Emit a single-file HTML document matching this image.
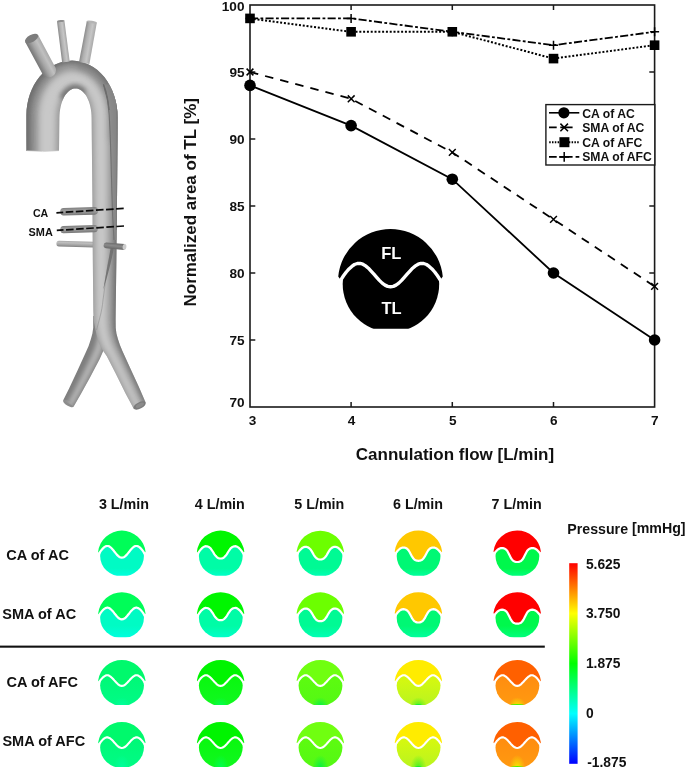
<!DOCTYPE html>
<html><head><meta charset="utf-8"><title>figure</title>
<style>
html,body{margin:0;padding:0;background:#fff;}
body{width:685px;height:768px;overflow:hidden;font-family:"Liberation Sans",sans-serif;}
svg{display:block;will-change:transform;}
text{font-family:"Liberation Sans",sans-serif;font-weight:bold;fill:#111;}
</style></head><body>
<svg width="685" height="768" viewBox="0 0 685 768">
<rect width="685" height="768" fill="#fff"/>
<defs>
<clipPath id="icc"><path d="M334.11,280.12 L340.7,280.1 343.5,275.8 346.3,272.0 349.0,268.9 351.8,266.4 354.5,264.5 357.3,263.5 360.1,263.4 362.8,264.2 365.6,265.9 368.4,268.2 371.1,271.1 373.9,274.2 376.7,277.4 379.4,280.4 382.2,283.1 385.0,285.1 387.7,286.4 390.5,286.8 393.3,286.4 396.0,285.1 398.8,283.1 401.6,280.4 404.3,277.4 407.1,274.2 409.9,271.1 412.6,268.2 415.4,265.9 418.2,264.2 420.9,263.4 423.7,263.5 426.5,264.5 429.2,266.4 432.0,268.9 434.7,272.0 437.5,275.8 440.3,280.1 L446.89,280.12 V328.66 H334.11Z"/></clipPath>
<linearGradient id="m00g" x1="0" y1="0" x2="0" y2="1"><stop offset="0.8" stop-color="#00fbc4"/><stop offset="1" stop-color="#00ffe0"/></linearGradient>
<clipPath id="m00c"><path d="M96.25,553.40 L99.2,553.4 100.5,551.4 101.8,549.7 103.0,548.3 104.3,547.2 105.5,546.4 106.8,546.0 108.0,546.0 109.3,546.4 110.5,547.3 111.8,548.5 113.1,549.9 114.3,551.5 115.6,553.1 116.8,554.6 118.1,555.9 119.3,556.9 120.6,557.5 121.8,557.7 123.1,557.5 124.4,556.9 125.6,555.9 126.9,554.6 128.1,553.1 129.4,551.5 130.6,549.9 131.9,548.5 133.2,547.3 134.4,546.4 135.7,546.0 136.9,546.0 138.2,546.4 139.4,547.2 140.7,548.3 141.9,549.7 143.2,551.4 144.4,553.4 L147.45,553.40 V575.65 H96.25Z"/></clipPath>
<linearGradient id="m01g" x1="0" y1="0" x2="0" y2="1"><stop offset="0.8" stop-color="#00fca6"/><stop offset="1" stop-color="#00ffcc"/></linearGradient>
<clipPath id="m01c"><path d="M195.00,553.30 L198.0,553.3 199.3,551.4 200.5,549.8 201.8,548.4 203.0,547.4 204.3,546.6 205.5,546.2 206.8,546.3 208.0,546.6 209.3,547.3 210.6,548.4 211.8,550.1 213.1,552.0 214.3,554.1 215.6,555.8 216.8,557.1 218.1,558.0 219.3,558.4 220.6,558.5 221.9,558.4 223.1,558.0 224.4,557.1 225.6,555.8 226.9,554.1 228.1,552.0 229.4,550.1 230.6,548.4 231.9,547.3 233.2,546.6 234.4,546.3 235.7,546.2 236.9,546.6 238.2,547.4 239.4,548.4 240.7,549.8 241.9,551.4 243.2,553.3 L246.20,553.30 V575.65 H195.00Z"/></clipPath>
<linearGradient id="m02g" x1="0" y1="0" x2="0" y2="1"><stop offset="0.8" stop-color="#00fa94"/><stop offset="1" stop-color="#00ffb8"/></linearGradient>
<clipPath id="m02c"><path d="M294.70,553.20 L297.7,553.2 299.0,551.4 300.2,549.9 301.5,548.7 302.7,547.7 304.0,547.1 305.2,546.8 306.5,546.9 307.7,547.2 309.0,548.0 310.3,549.2 311.5,550.9 312.8,553.1 314.0,555.3 315.3,557.0 316.5,558.3 317.8,559.0 319.0,559.4 320.3,559.5 321.6,559.4 322.8,559.0 324.1,558.3 325.3,557.0 326.6,555.3 327.8,553.1 329.1,550.9 330.3,549.2 331.6,548.0 332.9,547.2 334.1,546.9 335.4,546.8 336.6,547.1 337.9,547.7 339.1,548.7 340.4,549.9 341.6,551.4 342.9,553.2 L345.90,553.20 V575.65 H294.70Z"/></clipPath>
<linearGradient id="m03g" x1="0" y1="0" x2="0" y2="1"><stop offset="0.8" stop-color="#00f874"/><stop offset="1" stop-color="#00ffa0"/></linearGradient>
<clipPath id="m03c"><path d="M392.80,553.10 L395.8,553.1 397.1,551.5 398.3,550.1 399.6,549.0 400.8,548.2 402.1,547.7 403.3,547.5 404.6,547.6 405.8,548.0 407.1,548.8 408.4,550.1 409.6,552.0 410.9,554.4 412.1,556.7 413.4,558.5 414.6,559.7 415.9,560.4 417.1,560.7 418.4,560.8 419.7,560.7 420.9,560.4 422.2,559.7 423.4,558.5 424.7,556.7 425.9,554.4 427.2,552.0 428.4,550.1 429.7,548.8 431.0,548.0 432.2,547.6 433.5,547.5 434.7,547.7 436.0,548.2 437.2,549.0 438.5,550.1 439.7,551.5 441.0,553.1 L444.00,553.10 V575.65 H392.80Z"/></clipPath>
<linearGradient id="m04g" x1="0" y1="0" x2="0" y2="1"><stop offset="0.8" stop-color="#00f84c"/><stop offset="1" stop-color="#00ff80"/></linearGradient>
<clipPath id="m04c"><path d="M491.60,553.00 L494.6,553.0 495.9,551.5 497.1,550.2 498.4,549.2 499.6,548.5 500.9,548.1 502.1,548.0 503.4,548.2 504.6,548.6 505.9,549.4 507.2,550.8 508.4,553.0 509.7,555.6 510.9,558.0 512.2,559.8 513.4,561.0 514.7,561.6 515.9,561.9 517.2,562.0 518.5,561.9 519.7,561.6 521.0,561.0 522.2,559.8 523.5,558.0 524.7,555.6 526.0,553.0 527.2,550.8 528.5,549.4 529.8,548.6 531.0,548.2 532.3,548.0 533.5,548.1 534.8,548.5 536.0,549.2 537.3,550.2 538.5,551.5 539.8,553.0 L542.80,553.00 V575.65 H491.60Z"/></clipPath>
<linearGradient id="m10g" x1="0" y1="0" x2="0" y2="1"><stop offset="0.7" stop-color="#00fbc4"/><stop offset="1" stop-color="#00ffe0"/></linearGradient>
<clipPath id="m10c"><path d="M96.25,615.10 L99.2,615.1 100.5,613.1 101.8,611.4 103.0,610.0 104.3,608.9 105.5,608.1 106.8,607.7 108.0,607.7 109.3,608.1 110.5,609.0 111.8,610.2 113.1,611.6 114.3,613.2 115.6,614.8 116.8,616.3 118.1,617.6 119.3,618.6 120.6,619.2 121.8,619.4 123.1,619.2 124.4,618.6 125.6,617.6 126.9,616.3 128.1,614.8 129.4,613.2 130.6,611.6 131.9,610.2 133.2,609.0 134.4,608.1 135.7,607.7 136.9,607.7 138.2,608.1 139.4,608.9 140.7,610.0 141.9,611.4 143.2,613.1 144.4,615.1 L147.45,615.10 V637.35 H96.25Z"/></clipPath>
<linearGradient id="m11g" x1="0" y1="0" x2="0" y2="1"><stop offset="0.7" stop-color="#00fca6"/><stop offset="1" stop-color="#00ffcc"/></linearGradient>
<clipPath id="m11c"><path d="M195.00,615.00 L198.0,615.0 199.3,613.1 200.5,611.5 201.8,610.1 203.0,609.1 204.3,608.3 205.5,607.9 206.8,608.0 208.0,608.3 209.3,609.0 210.6,610.1 211.8,611.8 213.1,613.7 214.3,615.8 215.6,617.5 216.8,618.8 218.1,619.7 219.3,620.1 220.6,620.2 221.9,620.1 223.1,619.7 224.4,618.8 225.6,617.5 226.9,615.8 228.1,613.7 229.4,611.8 230.6,610.1 231.9,609.0 233.2,608.3 234.4,608.0 235.7,607.9 236.9,608.3 238.2,609.1 239.4,610.1 240.7,611.5 241.9,613.1 243.2,615.0 L246.20,615.00 V637.35 H195.00Z"/></clipPath>
<linearGradient id="m12g" x1="0" y1="0" x2="0" y2="1"><stop offset="0.7" stop-color="#00fa94"/><stop offset="1" stop-color="#00ffb8"/></linearGradient>
<clipPath id="m12c"><path d="M294.70,614.90 L297.7,614.9 299.0,613.1 300.2,611.6 301.5,610.4 302.7,609.4 304.0,608.8 305.2,608.5 306.5,608.6 307.7,608.9 309.0,609.7 310.3,610.9 311.5,612.6 312.8,614.8 314.0,617.0 315.3,618.7 316.5,620.0 317.8,620.7 319.0,621.1 320.3,621.2 321.6,621.1 322.8,620.7 324.1,620.0 325.3,618.7 326.6,617.0 327.8,614.8 329.1,612.6 330.3,610.9 331.6,609.7 332.9,608.9 334.1,608.6 335.4,608.5 336.6,608.8 337.9,609.4 339.1,610.4 340.4,611.6 341.6,613.1 342.9,614.9 L345.90,614.90 V637.35 H294.70Z"/></clipPath>
<linearGradient id="m13g" x1="0" y1="0" x2="0" y2="1"><stop offset="0.7" stop-color="#00f874"/><stop offset="1" stop-color="#00ffa0"/></linearGradient>
<clipPath id="m13c"><path d="M392.80,614.80 L395.8,614.8 397.1,613.2 398.3,611.8 399.6,610.7 400.8,609.9 402.1,609.4 403.3,609.2 404.6,609.3 405.8,609.7 407.1,610.5 408.4,611.8 409.6,613.7 410.9,616.1 412.1,618.4 413.4,620.2 414.6,621.4 415.9,622.1 417.1,622.4 418.4,622.5 419.7,622.4 420.9,622.1 422.2,621.4 423.4,620.2 424.7,618.4 425.9,616.1 427.2,613.7 428.4,611.8 429.7,610.5 431.0,609.7 432.2,609.3 433.5,609.2 434.7,609.4 436.0,609.9 437.2,610.7 438.5,611.8 439.7,613.2 441.0,614.8 L444.00,614.80 V637.35 H392.80Z"/></clipPath>
<linearGradient id="m14g" x1="0" y1="0" x2="0" y2="1"><stop offset="0.7" stop-color="#00f84c"/><stop offset="1" stop-color="#00ff80"/></linearGradient>
<clipPath id="m14c"><path d="M491.60,614.70 L494.6,614.7 495.9,613.2 497.1,611.9 498.4,610.9 499.6,610.2 500.9,609.8 502.1,609.7 503.4,609.9 504.6,610.3 505.9,611.1 507.2,612.5 508.4,614.7 509.7,617.3 510.9,619.7 512.2,621.5 513.4,622.7 514.7,623.3 515.9,623.6 517.2,623.7 518.5,623.6 519.7,623.3 521.0,622.7 522.2,621.5 523.5,619.7 524.7,617.3 526.0,614.7 527.2,612.5 528.5,611.1 529.8,610.3 531.0,609.9 532.3,609.7 533.5,609.8 534.8,610.2 536.0,610.9 537.3,611.9 538.5,613.2 539.8,614.7 L542.80,614.70 V637.35 H491.60Z"/></clipPath>
<linearGradient id="m20l" x1="0" y1="0" x2="0" y2="1"><stop offset="0.35" stop-color="#00f978"/><stop offset="1" stop-color="#00fb86"/></linearGradient>
<radialGradient id="m20g" cx="0" cy="0" r="8.5" gradientUnits="userSpaceOnUse" gradientTransform="translate(121.85 705.9) scale(1.0 1)"><stop offset="0" stop-color="#00ffa0" stop-opacity="0.95"/><stop offset="0.45" stop-color="#00ffa0" stop-opacity="0.5"/><stop offset="1" stop-color="#00ffa0" stop-opacity="0"/></radialGradient>
<clipPath id="m20c"><path d="M96.25,682.10 L99.2,682.1 100.5,680.2 101.8,678.6 103.0,677.3 104.3,676.3 105.5,675.6 106.8,675.2 108.0,675.3 109.3,675.8 110.5,676.6 111.8,677.7 113.1,679.0 114.3,680.4 115.6,681.8 116.8,683.1 118.1,684.3 119.3,685.2 120.6,685.7 121.8,685.9 123.1,685.7 124.4,685.2 125.6,684.3 126.9,683.1 128.1,681.8 129.4,680.4 130.6,679.0 131.9,677.7 133.2,676.6 134.4,675.8 135.7,675.3 136.9,675.2 138.2,675.6 139.4,676.3 140.7,677.3 141.9,678.6 143.2,680.2 144.4,682.1 L147.45,682.10 V704.95 H96.25Z"/></clipPath>
<linearGradient id="m21l" x1="0" y1="0" x2="0" y2="1"><stop offset="0.35" stop-color="#0af810"/><stop offset="1" stop-color="#10f820"/></linearGradient>
<radialGradient id="m21g" cx="0" cy="0" r="8.5" gradientUnits="userSpaceOnUse" gradientTransform="translate(220.6 705.9) scale(1.0 1)"><stop offset="0" stop-color="#00ff58" stop-opacity="0.95"/><stop offset="0.45" stop-color="#00ff58" stop-opacity="0.5"/><stop offset="1" stop-color="#00ff58" stop-opacity="0"/></radialGradient>
<clipPath id="m21c"><path d="M195.00,682.10 L198.0,682.1 199.3,680.2 200.5,678.6 201.8,677.3 203.0,676.3 204.3,675.6 205.5,675.2 206.8,675.3 208.0,675.8 209.3,676.6 210.6,677.7 211.8,679.0 213.1,680.4 214.3,681.8 215.6,683.1 216.8,684.3 218.1,685.2 219.3,685.7 220.6,685.9 221.9,685.7 223.1,685.2 224.4,684.3 225.6,683.1 226.9,681.8 228.1,680.4 229.4,679.0 230.6,677.7 231.9,676.6 233.2,675.8 234.4,675.3 235.7,675.2 236.9,675.6 238.2,676.3 239.4,677.3 240.7,678.6 241.9,680.2 243.2,682.1 L246.20,682.10 V704.95 H195.00Z"/></clipPath>
<linearGradient id="m22l" x1="0" y1="0" x2="0" y2="1"><stop offset="0.35" stop-color="#5cfb10"/><stop offset="1" stop-color="#54f814"/></linearGradient>
<radialGradient id="m22g" cx="0" cy="0" r="8.5" gradientUnits="userSpaceOnUse" gradientTransform="translate(320.3 705.9) scale(1.0 1)"><stop offset="0" stop-color="#00f048" stop-opacity="0.95"/><stop offset="0.45" stop-color="#00f048" stop-opacity="0.5"/><stop offset="1" stop-color="#00f048" stop-opacity="0"/></radialGradient>
<clipPath id="m22c"><path d="M294.70,682.10 L297.7,682.1 299.0,680.2 300.2,678.6 301.5,677.3 302.7,676.3 304.0,675.6 305.2,675.2 306.5,675.3 307.7,675.8 309.0,676.6 310.3,677.7 311.5,679.0 312.8,680.4 314.0,681.8 315.3,683.1 316.5,684.3 317.8,685.2 319.0,685.7 320.3,685.9 321.6,685.7 322.8,685.2 324.1,684.3 325.3,683.1 326.6,681.8 327.8,680.4 329.1,679.0 330.3,677.7 331.6,676.6 332.9,675.8 334.1,675.3 335.4,675.2 336.6,675.6 337.9,676.3 339.1,677.3 340.4,678.6 341.6,680.2 342.9,682.1 L345.90,682.10 V704.95 H294.70Z"/></clipPath>
<linearGradient id="m23l" x1="0" y1="0" x2="0" y2="1"><stop offset="0.35" stop-color="#d4f810"/><stop offset="1" stop-color="#b8f420"/></linearGradient>
<radialGradient id="m23g" cx="0" cy="0" r="8.5" gradientUnits="userSpaceOnUse" gradientTransform="translate(418.4 705.9) scale(1.0 1)"><stop offset="0" stop-color="#40f020" stop-opacity="0.95"/><stop offset="0.45" stop-color="#40f020" stop-opacity="0.5"/><stop offset="1" stop-color="#40f020" stop-opacity="0"/></radialGradient>
<clipPath id="m23c"><path d="M392.80,682.10 L395.8,682.1 397.1,680.2 398.3,678.6 399.6,677.3 400.8,676.3 402.1,675.6 403.3,675.2 404.6,675.3 405.8,675.8 407.1,676.6 408.4,677.7 409.6,679.0 410.9,680.4 412.1,681.8 413.4,683.1 414.6,684.3 415.9,685.2 417.1,685.7 418.4,685.9 419.7,685.7 420.9,685.2 422.2,684.3 423.4,683.1 424.7,681.8 425.9,680.4 427.2,679.0 428.4,677.7 429.7,676.6 431.0,675.8 432.2,675.3 433.5,675.2 434.7,675.6 436.0,676.3 437.2,677.3 438.5,678.6 439.7,680.2 441.0,682.1 L444.00,682.10 V704.95 H392.80Z"/></clipPath>
<linearGradient id="m24l" x1="0" y1="0" x2="0" y2="1"><stop offset="0.35" stop-color="#ff8e10"/><stop offset="1" stop-color="#ff9a10"/></linearGradient>
<radialGradient id="m24g" cx="0" cy="0" r="8.5" gradientUnits="userSpaceOnUse" gradientTransform="translate(517.2 705.9) scale(1.0 1)"><stop offset="0" stop-color="#f4f000" stop-opacity="0.95"/><stop offset="0.45" stop-color="#f4f000" stop-opacity="0.5"/><stop offset="1" stop-color="#f4f000" stop-opacity="0"/></radialGradient>
<clipPath id="m24c"><path d="M491.60,682.10 L494.6,682.1 495.9,680.2 497.1,678.6 498.4,677.3 499.6,676.3 500.9,675.6 502.1,675.2 503.4,675.3 504.6,675.8 505.9,676.6 507.2,677.7 508.4,679.0 509.7,680.4 510.9,681.8 512.2,683.1 513.4,684.3 514.7,685.2 515.9,685.7 517.2,685.9 518.5,685.7 519.7,685.2 521.0,684.3 522.2,683.1 523.5,681.8 524.7,680.4 526.0,679.0 527.2,677.7 528.5,676.6 529.8,675.8 531.0,675.3 532.3,675.2 533.5,675.6 534.8,676.3 536.0,677.3 537.3,678.6 538.5,680.2 539.8,682.1 L542.80,682.10 V704.95 H491.60Z"/></clipPath>
<linearGradient id="m30l" x1="0" y1="0" x2="0" y2="1"><stop offset="0.35" stop-color="#00f978"/><stop offset="1" stop-color="#00fb86"/></linearGradient>
<radialGradient id="m30g" cx="0" cy="0" r="13" gradientUnits="userSpaceOnUse" gradientTransform="translate(121.85 768.0) scale(0.62 1)"><stop offset="0" stop-color="#00ffa0" stop-opacity="0.95"/><stop offset="0.45" stop-color="#00ffa0" stop-opacity="0.5"/><stop offset="1" stop-color="#00ffa0" stop-opacity="0"/></radialGradient>
<clipPath id="m30c"><path d="M96.25,744.20 L99.2,744.2 100.5,742.3 101.8,740.7 103.0,739.4 104.3,738.4 105.5,737.7 106.8,737.3 108.0,737.4 109.3,737.9 110.5,738.7 111.8,739.8 113.1,741.1 114.3,742.5 115.6,743.9 116.8,745.2 118.1,746.4 119.3,747.3 120.6,747.8 121.8,748.0 123.1,747.8 124.4,747.3 125.6,746.4 126.9,745.2 128.1,743.9 129.4,742.5 130.6,741.1 131.9,739.8 133.2,738.7 134.4,737.9 135.7,737.4 136.9,737.3 138.2,737.7 139.4,738.4 140.7,739.4 141.9,740.7 143.2,742.3 144.4,744.2 L147.45,744.20 V767.05 H96.25Z"/></clipPath>
<linearGradient id="m31l" x1="0" y1="0" x2="0" y2="1"><stop offset="0.35" stop-color="#0af810"/><stop offset="1" stop-color="#10f820"/></linearGradient>
<radialGradient id="m31g" cx="0" cy="0" r="13" gradientUnits="userSpaceOnUse" gradientTransform="translate(220.6 768.0) scale(0.62 1)"><stop offset="0" stop-color="#00ff58" stop-opacity="0.95"/><stop offset="0.45" stop-color="#00ff58" stop-opacity="0.5"/><stop offset="1" stop-color="#00ff58" stop-opacity="0"/></radialGradient>
<clipPath id="m31c"><path d="M195.00,744.20 L198.0,744.2 199.3,742.3 200.5,740.7 201.8,739.4 203.0,738.4 204.3,737.7 205.5,737.3 206.8,737.4 208.0,737.9 209.3,738.7 210.6,739.8 211.8,741.1 213.1,742.5 214.3,743.9 215.6,745.2 216.8,746.4 218.1,747.3 219.3,747.8 220.6,748.0 221.9,747.8 223.1,747.3 224.4,746.4 225.6,745.2 226.9,743.9 228.1,742.5 229.4,741.1 230.6,739.8 231.9,738.7 233.2,737.9 234.4,737.4 235.7,737.3 236.9,737.7 238.2,738.4 239.4,739.4 240.7,740.7 241.9,742.3 243.2,744.2 L246.20,744.20 V767.05 H195.00Z"/></clipPath>
<linearGradient id="m32l" x1="0" y1="0" x2="0" y2="1"><stop offset="0.35" stop-color="#5cfb10"/><stop offset="1" stop-color="#54f814"/></linearGradient>
<radialGradient id="m32g" cx="0" cy="0" r="13" gradientUnits="userSpaceOnUse" gradientTransform="translate(320.3 768.0) scale(0.62 1)"><stop offset="0" stop-color="#00f048" stop-opacity="0.95"/><stop offset="0.45" stop-color="#00f048" stop-opacity="0.5"/><stop offset="1" stop-color="#00f048" stop-opacity="0"/></radialGradient>
<clipPath id="m32c"><path d="M294.70,744.20 L297.7,744.2 299.0,742.3 300.2,740.7 301.5,739.4 302.7,738.4 304.0,737.7 305.2,737.3 306.5,737.4 307.7,737.9 309.0,738.7 310.3,739.8 311.5,741.1 312.8,742.5 314.0,743.9 315.3,745.2 316.5,746.4 317.8,747.3 319.0,747.8 320.3,748.0 321.6,747.8 322.8,747.3 324.1,746.4 325.3,745.2 326.6,743.9 327.8,742.5 329.1,741.1 330.3,739.8 331.6,738.7 332.9,737.9 334.1,737.4 335.4,737.3 336.6,737.7 337.9,738.4 339.1,739.4 340.4,740.7 341.6,742.3 342.9,744.2 L345.90,744.20 V767.05 H294.70Z"/></clipPath>
<linearGradient id="m33l" x1="0" y1="0" x2="0" y2="1"><stop offset="0.35" stop-color="#d4f810"/><stop offset="1" stop-color="#b8f420"/></linearGradient>
<radialGradient id="m33g" cx="0" cy="0" r="13" gradientUnits="userSpaceOnUse" gradientTransform="translate(418.4 768.0) scale(0.62 1)"><stop offset="0" stop-color="#40f020" stop-opacity="0.95"/><stop offset="0.45" stop-color="#40f020" stop-opacity="0.5"/><stop offset="1" stop-color="#40f020" stop-opacity="0"/></radialGradient>
<clipPath id="m33c"><path d="M392.80,744.20 L395.8,744.2 397.1,742.3 398.3,740.7 399.6,739.4 400.8,738.4 402.1,737.7 403.3,737.3 404.6,737.4 405.8,737.9 407.1,738.7 408.4,739.8 409.6,741.1 410.9,742.5 412.1,743.9 413.4,745.2 414.6,746.4 415.9,747.3 417.1,747.8 418.4,748.0 419.7,747.8 420.9,747.3 422.2,746.4 423.4,745.2 424.7,743.9 425.9,742.5 427.2,741.1 428.4,739.8 429.7,738.7 431.0,737.9 432.2,737.4 433.5,737.3 434.7,737.7 436.0,738.4 437.2,739.4 438.5,740.7 439.7,742.3 441.0,744.2 L444.00,744.20 V767.05 H392.80Z"/></clipPath>
<linearGradient id="m34l" x1="0" y1="0" x2="0" y2="1"><stop offset="0.35" stop-color="#ff8e10"/><stop offset="1" stop-color="#ff9a10"/></linearGradient>
<radialGradient id="m34g" cx="0" cy="0" r="13" gradientUnits="userSpaceOnUse" gradientTransform="translate(517.2 768.0) scale(0.62 1)"><stop offset="0" stop-color="#f4f000" stop-opacity="0.95"/><stop offset="0.45" stop-color="#f4f000" stop-opacity="0.5"/><stop offset="1" stop-color="#f4f000" stop-opacity="0"/></radialGradient>
<clipPath id="m34c"><path d="M491.60,744.20 L494.6,744.2 495.9,742.3 497.1,740.7 498.4,739.4 499.6,738.4 500.9,737.7 502.1,737.3 503.4,737.4 504.6,737.9 505.9,738.7 507.2,739.8 508.4,741.1 509.7,742.5 510.9,743.9 512.2,745.2 513.4,746.4 514.7,747.3 515.9,747.8 517.2,748.0 518.5,747.8 519.7,747.3 521.0,746.4 522.2,745.2 523.5,743.9 524.7,742.5 526.0,741.1 527.2,739.8 528.5,738.7 529.8,737.9 531.0,737.4 532.3,737.3 533.5,737.7 534.8,738.4 536.0,739.4 537.3,740.7 538.5,742.3 539.8,744.2 L542.80,744.20 V767.05 H491.60Z"/></clipPath>
<linearGradient id="jet" x1="0" y1="0" x2="0" y2="1"><stop offset="0" stop-color="#ff0000"/><stop offset="0.25" stop-color="#ffff00"/><stop offset="0.5" stop-color="#00ff00"/><stop offset="0.75" stop-color="#00ffff"/><stop offset="1" stop-color="#0000ff"/></linearGradient>
<filter id="bl3" x="-20%" y="-20%" width="140%" height="140%"><feGaussianBlur stdDeviation="3.2"/></filter>
<filter id="bl2" x="-20%" y="-20%" width="140%" height="140%"><feGaussianBlur stdDeviation="2"/></filter>
<filter id="bl1" x="-20%" y="-20%" width="140%" height="140%"><feGaussianBlur stdDeviation="1"/></filter>
<filter id="bl05" x="-20%" y="-20%" width="140%" height="140%"><feGaussianBlur stdDeviation="0.5"/></filter>
<clipPath id="aoc"><path d="M26.5,151.0 L26.4,135.0 L26.4,115.0 L26.6,109.7 L27.3,104.4 L28.4,99.2 L29.9,94.2 L31.8,89.4 L34.1,84.8 L36.8,80.5 L39.8,76.5 L43.1,72.9 L46.7,69.8 L50.6,67.0 L54.6,64.7 L58.8,62.9 L63.2,61.6 L67.6,60.9 L72.1,60.6 L76.6,60.9 L81.0,61.7 L85.3,63.0 L89.5,64.9 L93.5,67.3 L97.4,70.1 L101.0,73.4 L104.3,77.1 L107.3,81.2 L109.9,85.7 L112.2,90.4 L114.1,95.4 L115.6,100.6 L116.7,106.0 L117.4,111.5 L117.6,117.0 L117.5,140.0 L117.0,200.0 L116.4,260.0 L115.7,310.0 L115.6,320.0 L115.7,327.7 L116.4,333.5 L117.9,338.9 L119.9,345.0 L122.4,350.9 L129.9,367.4 L138.8,386.8 L145.6,402.5 L133.6,408.5 L125.3,392.9 L115.8,373.7 L106.7,356.0 L102.0,349.3 L98.6,342.0 L96.6,335.0 L95.2,328.4 L93.6,320.0 L93.3,310.0 L92.8,260.0 L92.4,200.0 L91.8,140.0 L91.6,118.0 L91.5,115.1 L91.3,112.2 L90.9,109.4 L90.4,106.7 L89.7,104.0 L88.9,101.6 L87.9,99.2 L86.9,97.1 L85.7,95.1 L84.4,93.4 L83.1,91.9 L81.7,90.7 L80.2,89.7 L78.6,89.0 L77.1,88.5 L75.5,88.4 L73.9,88.5 L72.4,89.0 L70.8,89.7 L69.3,90.7 L67.9,91.9 L66.6,93.4 L65.3,95.1 L64.1,97.1 L63.1,99.2 L62.1,101.6 L61.3,104.0 L60.6,106.7 L60.1,109.4 L59.7,112.2 L59.5,115.1 L59.4,118.0 L59.2,135.0 L59.0,151.0Z"/></clipPath>
<linearGradient id="g_lr" gradientUnits="userSpaceOnUse" x1="76.6" y1="241.2" x2="76.4" y2="247.0"><stop offset="0" stop-color="#a8a8a8"/><stop offset="0.3" stop-color="#bebebe"/><stop offset="0.7" stop-color="#a2a2a2"/><stop offset="1" stop-color="#808080"/></linearGradient>
<clipPath id="lic"><path d="M93.2,316.0 L93.2,327.7 L92.4,333.5 L90.9,338.9 L88.6,346.0 L85.7,352.4 L77.5,370.4 L69.2,388.3 L63.2,400.3 L73.7,406.6 L81.0,393.8 L90.5,376.5 L99.7,359.0 L103.0,351.5 L105.0,343.5 L105.2,337.0 L105.0,330.0 L104.0,316.0Z"/></clipPath>
<linearGradient id="g_b1" gradientUnits="userSpaceOnUse" x1="46.9" y1="51.5" x2="34.0" y2="58.4"><stop offset="0" stop-color="#a9a9a9"/><stop offset="0.28" stop-color="#c0c0c0"/><stop offset="0.6" stop-color="#a6a6a6"/><stop offset="0.88" stop-color="#828282"/><stop offset="1" stop-color="#787878"/></linearGradient>
<linearGradient id="g_b2" gradientUnits="userSpaceOnUse" x1="67.1" y1="41.0" x2="59.5" y2="42.0"><stop offset="0" stop-color="#a4a4a4"/><stop offset="0.35" stop-color="#c6c6c6"/><stop offset="0.7" stop-color="#b0b0b0"/><stop offset="1" stop-color="#888888"/></linearGradient>
<linearGradient id="g_b3" gradientUnits="userSpaceOnUse" x1="93.2" y1="43.4" x2="82.8" y2="41.5"><stop offset="0" stop-color="#a8a8a8"/><stop offset="0.35" stop-color="#c6c6c6"/><stop offset="0.7" stop-color="#b0b0b0"/><stop offset="1" stop-color="#8a8a8a"/></linearGradient>
<linearGradient id="g_ca" gradientUnits="userSpaceOnUse" x1="79.0" y1="207.5" x2="79.2" y2="215.1"><stop offset="0" stop-color="#7e7e7e"/><stop offset="0.4" stop-color="#a0a0a0"/><stop offset="0.7" stop-color="#929292"/><stop offset="1" stop-color="#767676"/></linearGradient>
<linearGradient id="g_sma" gradientUnits="userSpaceOnUse" x1="78.9" y1="225.5" x2="79.2" y2="232.7"><stop offset="0" stop-color="#7e7e7e"/><stop offset="0.4" stop-color="#a0a0a0"/><stop offset="0.7" stop-color="#929292"/><stop offset="1" stop-color="#767676"/></linearGradient>
<linearGradient id="g_rr" gradientUnits="userSpaceOnUse" x1="115.6" y1="243.3" x2="115.0" y2="249.0"><stop offset="0" stop-color="#6e6e6e"/><stop offset="0.45" stop-color="#8a8a8a"/><stop offset="1" stop-color="#6a6a6a"/></linearGradient>
</defs>


<g id="aorta"><path d="M59.1,240.7 L94.1,241.7 L93.9,247.5 L58.9,246.5 A2.9,2.6 92 0 1 59.1,240.7Z" fill="url(#g_lr)"/>
<path d="M93.2,316.0 L93.2,327.7 L92.4,333.5 L90.9,338.9 L88.6,346.0 L85.7,352.4 L77.5,370.4 L69.2,388.3 L63.2,400.3 L73.7,406.6 L81.0,393.8 L90.5,376.5 L99.7,359.0 L103.0,351.5 L105.0,343.5 L105.2,337.0 L105.0,330.0 L104.0,316.0Z" fill="#7e7e7e"/><ellipse cx="68.45" cy="403.45" rx="6.1" ry="2.5" transform="rotate(31 68.45 403.45)" fill="#8c8c8c"/>
<g clip-path="url(#lic)"><path d="M97.7,316.0 L98.2,328.7 L97.8,335.0 L96.8,340.8 L94.6,348.3 L91.6,355.2 L83.0,373.0 L74.2,390.6 L67.6,402.9 L72.7,406.0 L79.8,393.2 L89.2,375.9 L98.3,358.3 L101.6,350.9 L103.6,343.0 L103.9,336.6 L103.8,329.8 L102.9,316.0Z" fill="#b2b2b2" filter="url(#bl2)"/></g>
<path d="M26.5,151.0 L26.4,135.0 L26.4,115.0 L26.6,109.7 L27.3,104.4 L28.4,99.2 L29.9,94.2 L31.8,89.4 L34.1,84.8 L36.8,80.5 L39.8,76.5 L43.1,72.9 L46.7,69.8 L50.6,67.0 L54.6,64.7 L58.8,62.9 L63.2,61.6 L67.6,60.9 L72.1,60.6 L76.6,60.9 L81.0,61.7 L85.3,63.0 L89.5,64.9 L93.5,67.3 L97.4,70.1 L101.0,73.4 L104.3,77.1 L107.3,81.2 L109.9,85.7 L112.2,90.4 L114.1,95.4 L115.6,100.6 L116.7,106.0 L117.4,111.5 L117.6,117.0 L117.5,140.0 L117.0,200.0 L116.4,260.0 L115.7,310.0 L115.6,320.0 L115.7,327.7 L116.4,333.5 L117.9,338.9 L119.9,345.0 L122.4,350.9 L129.9,367.4 L138.8,386.8 L145.6,402.5 L133.6,408.5 L125.3,392.9 L115.8,373.7 L106.7,356.0 L102.0,349.3 L98.6,342.0 L96.6,335.0 L95.2,328.4 L93.6,320.0 L93.3,310.0 L92.8,260.0 L92.4,200.0 L91.8,140.0 L91.6,118.0 L91.5,115.1 L91.3,112.2 L90.9,109.4 L90.4,106.7 L89.7,104.0 L88.9,101.6 L87.9,99.2 L86.9,97.1 L85.7,95.1 L84.4,93.4 L83.1,91.9 L81.7,90.7 L80.2,89.7 L78.6,89.0 L77.1,88.5 L75.5,88.4 L73.9,88.5 L72.4,89.0 L70.8,89.7 L69.3,90.7 L67.9,91.9 L66.6,93.4 L65.3,95.1 L64.1,97.1 L63.1,99.2 L62.1,101.6 L61.3,104.0 L60.6,106.7 L60.1,109.4 L59.7,112.2 L59.5,115.1 L59.4,118.0 L59.2,135.0 L59.0,151.0Z" fill="#949494"/>
<g clip-path="url(#aoc)">
<path d="M38.2,163.0 L38.2,151.0 L38.2,135.0 L38.3,116.1 L38.4,111.6 L39.0,107.2 L39.8,102.9 L40.9,98.7 L42.4,94.6 L44.2,90.8 L46.2,87.2 L48.5,83.9 L51.1,80.9 L53.9,78.3 L56.8,76.0 L59.9,74.1 L63.2,72.6 L66.5,71.5 L69.9,70.8 L73.3,70.6 L76.7,70.8 L80.1,71.5 L83.5,72.6 L86.7,74.2 L89.8,76.1 L92.7,78.5 L95.5,81.2 L98.0,84.3 L100.3,87.7 L102.4,91.4 L104.1,95.3 L105.6,99.5 L106.7,103.8 L107.6,108.2 L108.1,112.8 L108.2,117.4 L108.2,140.0 L108.1,200.0 L107.9,260.0 L107.6,310.0 L107.7,320.0 L108.3,328.0 L109.3,334.0 L111.0,340.0 L113.5,346.5 L116.7,352.7 L124.8,369.7 L133.9,389.0 L141.3,404.7 L146.3,415.7 L139.6,419.0 L134.6,408.0 L126.4,392.4 L116.9,373.2 L108.0,355.6 L103.4,349.0 L100.1,341.8 L98.2,334.9 L96.8,328.3 L95.4,320.0 L95.1,310.0 L94.7,260.0 L94.4,200.0 L93.9,140.0 L93.7,117.9 L93.6,114.8 L93.3,111.7 L92.9,108.7 L92.3,105.8 L91.5,103.0 L90.6,100.3 L89.5,97.8 L88.3,95.5 L86.9,93.4 L85.5,91.5 L83.9,89.9 L82.3,88.6 L80.6,87.5 L78.8,86.8 L77.0,86.3 L75.2,86.2 L73.4,86.3 L71.6,86.8 L69.9,87.5 L68.2,88.6 L66.5,89.9 L65.0,91.5 L63.5,93.3 L62.2,95.4 L61.0,97.7 L59.9,100.2 L58.9,102.9 L58.2,105.7 L57.6,108.6 L57.1,111.6 L56.8,114.7 L56.8,117.8 L56.6,135.0 L56.4,151.0 L56.4,163.0Z" fill="#c8c8c8" filter="url(#bl3)"/>
<path d="M22.6,163.0 L22.6,151.0 L22.5,135.0 L22.4,114.6 L22.7,109.0 L23.4,103.4 L24.6,98.0 L26.2,92.7 L28.3,87.6 L30.7,82.8 L33.6,78.2 L36.9,74.1 L40.4,70.3 L44.3,66.9 L48.5,64.0 L52.8,61.6 L57.4,59.7 L62.1,58.4 L66.9,57.5 L71.7,57.3 L76.5,57.6 L81.3,58.4 L85.9,59.8 L90.5,61.8 L94.8,64.3 L98.9,67.3 L102.8,70.8 L106.4,74.7 L109.6,79.1 L112.5,83.8 L114.9,88.8 L117.0,94.1 L118.6,99.6 L119.8,105.2 L120.5,111.0 L120.7,116.9 L120.6,140.0 L120.0,200.0 L119.2,260.0 L118.4,310.0 L118.2,320.0 L118.2,327.6 L118.8,333.3 L120.2,338.5 L122.0,344.5 L124.3,350.3 L131.6,366.6 L140.4,386.1 L147.0,401.8 L152.0,412.8 L149.6,414.0 L144.6,403.0 L137.7,387.3 L128.8,367.9 L121.1,351.3 L118.5,345.3 L116.4,339.1 L114.8,333.6 L114.1,327.8 L113.8,320.0 L113.9,310.0 L114.5,260.0 L115.0,200.0 L115.4,140.0 L115.5,117.1 L115.3,111.8 L114.7,106.5 L113.7,101.3 L112.2,96.3 L110.4,91.5 L108.2,86.9 L105.7,82.7 L102.9,78.7 L99.7,75.1 L96.3,72.0 L92.7,69.2 L88.9,67.0 L84.9,65.2 L80.8,63.9 L76.6,63.1 L72.4,62.8 L68.1,63.1 L63.9,63.8 L59.8,65.1 L55.8,66.8 L51.9,69.0 L48.3,71.7 L44.9,74.7 L41.7,78.2 L38.9,82.0 L36.3,86.1 L34.2,90.5 L32.3,95.2 L30.9,100.0 L29.9,105.0 L29.2,110.1 L29.0,115.2 L29.0,135.0 L29.1,151.0 L29.1,163.0Z" fill="#6a6a6a" filter="url(#bl2)"/>
<path d="M23.2,163.0 L23.2,151.0 L23.1,135.0 L23.1,114.7 L23.3,109.1 L24.0,103.6 L25.2,98.2 L26.8,92.9 L28.8,87.9 L31.3,83.1 L34.1,78.6 L37.4,74.5 L40.9,70.7 L44.7,67.4 L48.8,64.5 L53.1,62.1 L57.0,68.9 L53.3,71.0 L49.9,73.5 L46.7,76.5 L43.7,79.8 L41.0,83.5 L38.6,87.5 L36.5,91.7 L34.8,96.2 L33.4,100.8 L32.5,105.6 L31.9,110.5 L31.7,115.5 L31.6,135.0 L31.7,151.0 L31.7,163.0Z" fill="#707070" opacity="0.6" filter="url(#bl3)"/>
<path d="M76.5,58.1 L81.2,59.0 L85.8,60.4 L90.3,62.3 L94.6,64.8 L98.7,67.8 L102.5,71.2 L106.0,75.1 L109.2,79.4 L112.0,84.1 L114.5,89.0 L116.5,94.3 L118.1,99.7 L119.3,105.4 L120.0,111.1 L120.2,116.9 L120.1,140.0 L109.8,140.0 L109.8,117.3 L109.6,112.6 L109.1,107.9 L108.2,103.3 L107.0,98.8 L105.5,94.5 L103.6,90.4 L101.5,86.6 L99.1,83.1 L96.4,79.9 L93.5,77.1 L90.4,74.7 L87.2,72.6 L83.8,71.0 L80.3,69.9 L76.7,69.2Z" fill="#7c7c7c" opacity="0.5" filter="url(#bl3)"/>
<path d="M59.4,96.6 L60.7,94.2 L62.2,92.0 L63.8,90.1 L65.5,88.4 L67.3,87.0 L69.1,85.9 L71.1,85.1 L73.0,84.7 L75.0,84.5 L77.0,84.7 L79.0,85.1 L80.9,85.9 L82.8,87.0 L84.6,88.4 L86.3,90.1 L82.5,96.9 L81.5,95.6 L80.5,94.5 L79.4,93.7 L78.3,93.1 L77.2,92.7 L76.0,92.6 L74.9,92.7 L73.7,93.1 L72.6,93.7 L71.5,94.5 L70.5,95.6 L69.5,96.9 L68.6,98.4 L67.8,100.2 L67.0,102.0Z" fill="#6c6c6c" opacity="0.75" filter="url(#bl2)"/>
<path d="M103.6,84.5 L106.0,92.0 L107.8,102.0 L109.2,115.0 L110.2,135.0 L111.0,160.0 L111.8,190.0 L112.6,215.0 L113.8,236.0 L114.0,240.0 L120.0,240.0 L120.0,84.0Z" fill="#8a8a8a" opacity="0.75" filter="url(#bl05)"/>
<path d="M103.6,84.5 L106.0,92.0 L107.8,102.0 L109.2,115.0 L110.2,135.0 L111.0,160.0 L111.8,190.0 L112.6,215.0 L113.8,236.0 L114.0,240.0" fill="none" stroke="#707070" stroke-width="1.1" opacity="0.95"/>
<path d="M114.0,240 C113.5,246 110,256 108.3,262 C106.5,272 104.5,290 103.0,300 C102,312 98.5,322 96.6,330" fill="none" stroke="#8a8a8a" stroke-width="1.0" opacity="0.55"/>
<path d="M113.8,248 C112.2,258 108.5,273 103.2,290 C105.8,274 108.6,261 110.6,248Z" fill="#6e6e6e" opacity="0.9" filter="url(#bl05)"/>
<path d="M103.4,84.3 L105.6,90 L107.6,98 L109.2,110 L107.6,100 L105.0,91Z" fill="#6c6c6c" stroke="#6c6c6c" stroke-width="0.8"/>
<path d="M116.9,100 L117.2,140 L116.6,230" fill="none" stroke="#767676" stroke-width="1.2" opacity="0.8"/>
</g>
<path d="M26.5,150.6 Q42.7,152.6 59,150.6" stroke="#c8c8c8" stroke-width="0.9" fill="none" opacity="0.8"/>
<ellipse cx="139.6" cy="405.5" rx="6.7" ry="3.2" transform="rotate(-26.6 139.6 405.5)" fill="#7b7b7b"/>
<ellipse cx="139.9" cy="405.2" rx="4.4" ry="1.9" transform="rotate(-26.6 139.9 405.2)" fill="#8b8b8b"/>
<path d="M38.1,35.0 L55.7,68.0 A7.3,6.6 152 0 1 42.9,74.8 L25.2,41.9 Z" fill="url(#g_b1)"/><ellipse cx="31.6" cy="38.5" rx="7.3" ry="3.6" transform="rotate(151.8 31.6 38.5)" fill="#7c7c7c"/>
<path d="M64.4,20.5 L69.7,61.5 L62.1,62.5 L57.0,21.5 Z" fill="url(#g_b2)"/><ellipse cx="60.7" cy="21.1" rx="3.7" ry="1.0" transform="rotate(172.8 60.7 21.1)" fill="#8e8e8e"/>
<path d="M96.8,22.8 L89.4,64.0 L79.0,62.0 L86.8,21.0 Z" fill="url(#g_b3)"/><ellipse cx="91.8" cy="22.0" rx="5.1" ry="1.2" transform="rotate(-169.5 91.8 22.0)" fill="#b4b4b4"/>
<path d="M63.5,207.9 L94.5,207.1 A3.8,3.4 89 0 1 94.7,214.7 L63.7,215.5 A3.8,3.4 89 0 1 63.5,207.9Z" fill="url(#g_ca)"/>
<path d="M63.4,226.0 L94.5,225.0 A3.6,3.2 88 0 1 94.7,232.2 L63.6,233.2 A3.6,3.2 88 0 1 63.4,226.0Z" fill="url(#g_sma)"/>
<path d="M106.5,242.4 L124.7,244.1 L124.1,249.9 L105.9,248.2 A2.9,2.6 95 0 1 106.5,242.4Z" fill="url(#g_rr)"/>
<ellipse cx="124.5" cy="247.0" rx="1.9" ry="2.9" transform="rotate(5 124.5 247)" fill="#cdcdcd"/>
<path d="M123.7,208.4 L56.4,212.8" stroke="#0a0a0a" stroke-width="1.7" stroke-dasharray="7.6 2.5" fill="none"/>
<path d="M124.0,226.0 L56.8,230.4" stroke="#0a0a0a" stroke-width="1.7" stroke-dasharray="7.6 2.5" fill="none"/>
<text x="40.6" y="217.3" font-size="10.6" text-anchor="middle">CA</text>
<text x="40.7" y="235.5" font-size="10.9" text-anchor="middle">SMA</text></g>
<g id="chart">
<rect x="250.0" y="5.0" width="404.6" height="402.0" fill="none" stroke="#1a1a1a" stroke-width="1.6"/>
<path d="M351.1,5.0v5M351.1,407.0v-5M452.3,5.0v5M452.3,407.0v-5M553.5,5.0v5M553.5,407.0v-5M250.0,72.0h5.3M654.6,72.0h-5.3M250.0,139.0h5.3M654.6,139.0h-5.3M250.0,206.0h5.3M654.6,206.0h-5.3M250.0,273.0h5.3M654.6,273.0h-5.3M250.0,340.0h5.3M654.6,340.0h-5.3" stroke="#1a1a1a" stroke-width="1.5" fill="none"/>
<text x="244.5" y="11.3" font-size="13.6" text-anchor="end">100</text>
<text x="244.5" y="77.2" font-size="13.6" text-anchor="end">95</text>
<text x="244.5" y="144.2" font-size="13.6" text-anchor="end">90</text>
<text x="244.5" y="211.2" font-size="13.6" text-anchor="end">85</text>
<text x="244.5" y="278.2" font-size="13.6" text-anchor="end">80</text>
<text x="244.5" y="345.2" font-size="13.6" text-anchor="end">75</text>
<text x="244.5" y="406.6" font-size="13.6" text-anchor="end">70</text>
<text x="252.5" y="425.3" font-size="13.6" text-anchor="middle">3</text>
<text x="351.5" y="425.3" font-size="13.6" text-anchor="middle">4</text>
<text x="452.8" y="425.3" font-size="13.6" text-anchor="middle">5</text>
<text x="553.9" y="425.3" font-size="13.6" text-anchor="middle">6</text>
<text x="654.7" y="425.3" font-size="13.6" text-anchor="middle">7</text>
<text x="455" y="460" font-size="17" text-anchor="middle">Cannulation flow [L/min]</text>
<text transform="translate(196.0,202.3) rotate(-90)" font-size="17" text-anchor="middle">Normalized area of TL [%]</text>
<polyline points="250.0,85.4 351.1,125.6 452.3,179.2 553.5,273.0 654.6,340.0" fill="none" stroke="#000" stroke-width="1.8"/>
<polyline points="250.0,72.0 351.1,98.8 452.3,152.4 553.5,219.4 654.6,286.4" fill="none" stroke="#000" stroke-width="1.8" stroke-dasharray="8.5 7.1"/>
<polyline points="250.0,18.4 351.1,31.8 452.3,31.8 553.5,58.6 654.6,45.2" fill="none" stroke="#000" stroke-width="2" stroke-dasharray="2 1.8"/>
<polyline points="250.0,18.4 351.1,18.4 452.3,31.8 553.5,45.2 654.6,31.8" fill="none" stroke="#000" stroke-width="1.8" stroke-dasharray="8.1 2.35 2.8 2.27"/>
<circle cx="250.0" cy="85.4" r="5.8" fill="#000"/>
<circle cx="351.1" cy="125.6" r="5.8" fill="#000"/>
<circle cx="452.3" cy="179.2" r="5.8" fill="#000"/>
<circle cx="553.5" cy="273.0" r="5.8" fill="#000"/>
<circle cx="654.6" cy="340.0" r="5.8" fill="#000"/>
<path d="M246.6,68.6l6.8,6.8M246.6,75.4l6.8,-6.8" stroke="#000" stroke-width="1.5" fill="none"/>
<path d="M347.8,95.4l6.8,6.8M347.8,102.2l6.8,-6.8" stroke="#000" stroke-width="1.5" fill="none"/>
<path d="M448.9,149.0l6.8,6.8M448.9,155.8l6.8,-6.8" stroke="#000" stroke-width="1.5" fill="none"/>
<path d="M550.1,216.0l6.8,6.8M550.1,222.8l6.8,-6.8" stroke="#000" stroke-width="1.5" fill="none"/>
<path d="M651.2,283.0l6.8,6.8M651.2,289.8l6.8,-6.8" stroke="#000" stroke-width="1.5" fill="none"/>
<rect x="245.2" y="13.6" width="9.6" height="9.6" fill="#000"/>
<rect x="346.3" y="27.0" width="9.6" height="9.6" fill="#000"/>
<rect x="447.5" y="27.0" width="9.6" height="9.6" fill="#000"/>
<rect x="548.7" y="53.8" width="9.6" height="9.6" fill="#000"/>
<rect x="649.8" y="40.4" width="9.6" height="9.6" fill="#000"/>
<path d="M245.5,18.4h9.0M250.0,13.9v9.0" stroke="#000" stroke-width="1.5" fill="none"/>
<path d="M346.6,18.4h9.0M351.1,13.9v9.0" stroke="#000" stroke-width="1.5" fill="none"/>
<path d="M447.8,31.8h9.0M452.3,27.3v9.0" stroke="#000" stroke-width="1.5" fill="none"/>
<path d="M549.0,45.2h9.0M553.5,40.7v9.0" stroke="#000" stroke-width="1.5" fill="none"/>
<path d="M650.1,31.8h9.0M654.6,27.3v9.0" stroke="#000" stroke-width="1.5" fill="none"/>
<rect x="545.9" y="104.6" width="108.9" height="60.4" fill="#fff" stroke="#1a1a1a" stroke-width="1.4"/>
<path d="M549,112.8H579.3" stroke="#000" stroke-width="1.6"/><circle cx="563.9" cy="112.8" r="5.6" fill="#000"/>
<path d="M549,127.4H556.7M560.3,127.4H572.6" stroke="#000" stroke-width="1.6"/><path d="M560.4,123.6l7.6,7.6M560.4,131.2l7.6,-7.6" stroke="#000" stroke-width="1.5" fill="none"/>
<path d="M549.2,142.2H579.6" stroke="#000" stroke-width="1.9" stroke-dasharray="1.5 1.3"/><rect x="559.4" y="137.2" width="10" height="10" fill="#000"/>
<path d="M549,156.9H556.7M559.4,156.9H572.6M575.6,156.9H579.3" stroke="#000" stroke-width="1.6"/><path d="M559.3,156.9h9.8M564.2,152.0v9.8" stroke="#000" stroke-width="1.5" fill="none"/>
<text x="582.2" y="118.0" font-size="12.2">CA of AC</text>
<text x="582.2" y="132.0" font-size="12.2">SMA of AC</text>
<text x="582.2" y="146.5" font-size="12.2">CA of AFC</text>
<text x="582.2" y="161.3" font-size="12.2">SMA of AFC</text>
</g>
<g id="icon"><path d="M338.25,276.60 L340.7,280.1 343.5,275.8 346.3,272.0 349.0,268.9 351.8,266.4 354.5,264.5 357.3,263.5 360.1,263.4 362.8,264.2 365.6,265.9 368.4,268.2 371.1,271.1 373.9,274.2 376.7,277.4 379.4,280.4 382.2,283.1 385.0,285.1 387.7,286.4 390.5,286.8 393.3,286.4 396.0,285.1 398.8,283.1 401.6,280.4 404.3,277.4 407.1,274.2 409.9,271.1 412.6,268.2 415.4,265.9 418.2,264.2 420.9,263.4 423.7,263.5 426.5,264.5 429.2,266.4 432.0,268.9 434.7,272.0 437.5,275.8 440.3,280.1 L442.75,276.60 A52.48,52.48 0 0 0 338.25,276.60Z" fill="#000"/>
<g clip-path="url(#icc)"><ellipse cx="390.94" cy="283.95" rx="48.24" ry="48.24" fill="#000"/></g>
<polyline points="340.7,280.1 343.5,275.8 346.3,272.0 349.0,268.9 351.8,266.4 354.5,264.5 357.3,263.5 360.1,263.4 362.8,264.2 365.6,265.9 368.4,268.2 371.1,271.1 373.9,274.2 376.7,277.4 379.4,280.4 382.2,283.1 385.0,285.1 387.7,286.4 390.5,286.8 393.3,286.4 396.0,285.1 398.8,283.1 401.6,280.4 404.3,277.4 407.1,274.2 409.9,271.1 412.6,268.2 415.4,265.9 418.2,264.2 420.9,263.4 423.7,263.5 426.5,264.5 429.2,266.4 432.0,268.9 434.7,272.0 437.5,275.8 440.3,280.1" fill="none" stroke="#fff" stroke-width="3.4" stroke-linecap="round" stroke-linejoin="round"/>
<text x="391.3" y="259" font-size="16.5" text-anchor="middle" style="fill:#fff">FL</text>
<text x="391.6" y="314" font-size="16.5" text-anchor="middle" style="fill:#fff">TL</text></g>
<g id="maps"><path d="M98.13,551.80 L99.2,553.4 100.5,551.4 101.8,549.7 103.0,548.3 104.3,547.2 105.5,546.4 106.8,546.0 108.0,546.0 109.3,546.4 110.5,547.3 111.8,548.5 113.1,549.9 114.3,551.5 115.6,553.1 116.8,554.6 118.1,555.9 119.3,556.9 120.6,557.5 121.8,557.7 123.1,557.5 124.4,556.9 125.6,555.9 126.9,554.6 128.1,553.1 129.4,551.5 130.6,549.9 131.9,548.5 133.2,547.3 134.4,546.4 135.7,546.0 136.9,546.0 138.2,546.4 139.4,547.2 140.7,548.3 141.9,549.7 143.2,551.4 144.4,553.4 L145.57,551.80 A23.87,23.87 0 0 0 98.13,551.80Z" fill="#00fd58"/>
<g clip-path="url(#m00c)"><ellipse cx="122.05" cy="556.10" rx="21.90" ry="20.45" fill="url(#m00g)"/></g>
<polyline points="99.2,553.4 100.5,551.4 101.8,549.7 103.0,548.3 104.3,547.2 105.5,546.4 106.8,546.0 108.0,546.0 109.3,546.4 110.5,547.3 111.8,548.5 113.1,549.9 114.3,551.5 115.6,553.1 116.8,554.6 118.1,555.9 119.3,556.9 120.6,557.5 121.8,557.7 123.1,557.5 124.4,556.9 125.6,555.9 126.9,554.6 128.1,553.1 129.4,551.5 130.6,549.9 131.9,548.5 133.2,547.3 134.4,546.4 135.7,546.0 136.9,546.0 138.2,546.4 139.4,547.2 140.7,548.3 141.9,549.7 143.2,551.4 144.4,553.4" fill="none" stroke="#fff" stroke-width="2.2" stroke-linecap="round" stroke-linejoin="round"/>
<path d="M196.88,551.70 L198.0,553.3 199.3,551.4 200.5,549.8 201.8,548.4 203.0,547.4 204.3,546.6 205.5,546.2 206.8,546.3 208.0,546.6 209.3,547.3 210.6,548.4 211.8,550.1 213.1,552.0 214.3,554.1 215.6,555.8 216.8,557.1 218.1,558.0 219.3,558.4 220.6,558.5 221.9,558.4 223.1,558.0 224.4,557.1 225.6,555.8 226.9,554.1 228.1,552.0 229.4,550.1 230.6,548.4 231.9,547.3 233.2,546.6 234.4,546.3 235.7,546.2 236.9,546.6 238.2,547.4 239.4,548.4 240.7,549.8 241.9,551.4 243.2,553.3 L244.32,551.70 A23.88,23.88 0 0 0 196.88,551.70Z" fill="#00f600"/>
<g clip-path="url(#m01c)"><ellipse cx="220.80" cy="556.10" rx="21.90" ry="20.45" fill="url(#m01g)"/></g>
<polyline points="198.0,553.3 199.3,551.4 200.5,549.8 201.8,548.4 203.0,547.4 204.3,546.6 205.5,546.2 206.8,546.3 208.0,546.6 209.3,547.3 210.6,548.4 211.8,550.1 213.1,552.0 214.3,554.1 215.6,555.8 216.8,557.1 218.1,558.0 219.3,558.4 220.6,558.5 221.9,558.4 223.1,558.0 224.4,557.1 225.6,555.8 226.9,554.1 228.1,552.0 229.4,550.1 230.6,548.4 231.9,547.3 233.2,546.6 234.4,546.3 235.7,546.2 236.9,546.6 238.2,547.4 239.4,548.4 240.7,549.8 241.9,551.4 243.2,553.3" fill="none" stroke="#fff" stroke-width="2.2" stroke-linecap="round" stroke-linejoin="round"/>
<path d="M296.58,551.60 L297.7,553.2 299.0,551.4 300.2,549.9 301.5,548.7 302.7,547.7 304.0,547.1 305.2,546.8 306.5,546.9 307.7,547.2 309.0,548.0 310.3,549.2 311.5,550.9 312.8,553.1 314.0,555.3 315.3,557.0 316.5,558.3 317.8,559.0 319.0,559.4 320.3,559.5 321.6,559.4 322.8,559.0 324.1,558.3 325.3,557.0 326.6,555.3 327.8,553.1 329.1,550.9 330.3,549.2 331.6,548.0 332.9,547.2 334.1,546.9 335.4,546.8 336.6,547.1 337.9,547.7 339.1,548.7 340.4,549.9 341.6,551.4 342.9,553.2 L344.02,551.60 A23.90,23.90 0 0 0 296.58,551.60Z" fill="#6cff00"/>
<g clip-path="url(#m02c)"><ellipse cx="320.50" cy="556.10" rx="21.90" ry="20.45" fill="url(#m02g)"/></g>
<polyline points="297.7,553.2 299.0,551.4 300.2,549.9 301.5,548.7 302.7,547.7 304.0,547.1 305.2,546.8 306.5,546.9 307.7,547.2 309.0,548.0 310.3,549.2 311.5,550.9 312.8,553.1 314.0,555.3 315.3,557.0 316.5,558.3 317.8,559.0 319.0,559.4 320.3,559.5 321.6,559.4 322.8,559.0 324.1,558.3 325.3,557.0 326.6,555.3 327.8,553.1 329.1,550.9 330.3,549.2 331.6,548.0 332.9,547.2 334.1,546.9 335.4,546.8 336.6,547.1 337.9,547.7 339.1,548.7 340.4,549.9 341.6,551.4 342.9,553.2" fill="none" stroke="#fff" stroke-width="2.2" stroke-linecap="round" stroke-linejoin="round"/>
<path d="M394.68,551.50 L395.8,553.1 397.1,551.5 398.3,550.1 399.6,549.0 400.8,548.2 402.1,547.7 403.3,547.5 404.6,547.6 405.8,548.0 407.1,548.8 408.4,550.1 409.6,552.0 410.9,554.4 412.1,556.7 413.4,558.5 414.6,559.7 415.9,560.4 417.1,560.7 418.4,560.8 419.7,560.7 420.9,560.4 422.2,559.7 423.4,558.5 424.7,556.7 425.9,554.4 427.2,552.0 428.4,550.1 429.7,548.8 431.0,548.0 432.2,547.6 433.5,547.5 434.7,547.7 436.0,548.2 437.2,549.0 438.5,550.1 439.7,551.5 441.0,553.1 L442.12,551.50 A23.91,23.91 0 0 0 394.68,551.50Z" fill="#ffc800"/>
<g clip-path="url(#m03c)"><ellipse cx="418.60" cy="556.10" rx="21.90" ry="20.45" fill="url(#m03g)"/></g>
<polyline points="395.8,553.1 397.1,551.5 398.3,550.1 399.6,549.0 400.8,548.2 402.1,547.7 403.3,547.5 404.6,547.6 405.8,548.0 407.1,548.8 408.4,550.1 409.6,552.0 410.9,554.4 412.1,556.7 413.4,558.5 414.6,559.7 415.9,560.4 417.1,560.7 418.4,560.8 419.7,560.7 420.9,560.4 422.2,559.7 423.4,558.5 424.7,556.7 425.9,554.4 427.2,552.0 428.4,550.1 429.7,548.8 431.0,548.0 432.2,547.6 433.5,547.5 434.7,547.7 436.0,548.2 437.2,549.0 438.5,550.1 439.7,551.5 441.0,553.1" fill="none" stroke="#fff" stroke-width="2.2" stroke-linecap="round" stroke-linejoin="round"/>
<path d="M493.48,551.40 L494.6,553.0 495.9,551.5 497.1,550.2 498.4,549.2 499.6,548.5 500.9,548.1 502.1,548.0 503.4,548.2 504.6,548.6 505.9,549.4 507.2,550.8 508.4,553.0 509.7,555.6 510.9,558.0 512.2,559.8 513.4,561.0 514.7,561.6 515.9,561.9 517.2,562.0 518.5,561.9 519.7,561.6 521.0,561.0 522.2,559.8 523.5,558.0 524.7,555.6 526.0,553.0 527.2,550.8 528.5,549.4 529.8,548.6 531.0,548.2 532.3,548.0 533.5,548.1 534.8,548.5 536.0,549.2 537.3,550.2 538.5,551.5 539.8,553.0 L540.92,551.40 A23.92,23.92 0 0 0 493.48,551.40Z" fill="#ff0000"/>
<g clip-path="url(#m04c)"><ellipse cx="517.40" cy="556.10" rx="21.90" ry="20.45" fill="url(#m04g)"/></g>
<polyline points="494.6,553.0 495.9,551.5 497.1,550.2 498.4,549.2 499.6,548.5 500.9,548.1 502.1,548.0 503.4,548.2 504.6,548.6 505.9,549.4 507.2,550.8 508.4,553.0 509.7,555.6 510.9,558.0 512.2,559.8 513.4,561.0 514.7,561.6 515.9,561.9 517.2,562.0 518.5,561.9 519.7,561.6 521.0,561.0 522.2,559.8 523.5,558.0 524.7,555.6 526.0,553.0 527.2,550.8 528.5,549.4 529.8,548.6 531.0,548.2 532.3,548.0 533.5,548.1 534.8,548.5 536.0,549.2 537.3,550.2 538.5,551.5 539.8,553.0" fill="none" stroke="#fff" stroke-width="2.2" stroke-linecap="round" stroke-linejoin="round"/>
<path d="M98.13,613.50 L99.2,615.1 100.5,613.1 101.8,611.4 103.0,610.0 104.3,608.9 105.5,608.1 106.8,607.7 108.0,607.7 109.3,608.1 110.5,609.0 111.8,610.2 113.1,611.6 114.3,613.2 115.6,614.8 116.8,616.3 118.1,617.6 119.3,618.6 120.6,619.2 121.8,619.4 123.1,619.2 124.4,618.6 125.6,617.6 126.9,616.3 128.1,614.8 129.4,613.2 130.6,611.6 131.9,610.2 133.2,609.0 134.4,608.1 135.7,607.7 136.9,607.7 138.2,608.1 139.4,608.9 140.7,610.0 141.9,611.4 143.2,613.1 144.4,615.1 L145.57,613.50 A23.87,23.87 0 0 0 98.13,613.50Z" fill="#00fd58"/>
<g clip-path="url(#m10c)"><ellipse cx="122.05" cy="617.80" rx="21.90" ry="20.45" fill="url(#m10g)"/></g>
<polyline points="99.2,615.1 100.5,613.1 101.8,611.4 103.0,610.0 104.3,608.9 105.5,608.1 106.8,607.7 108.0,607.7 109.3,608.1 110.5,609.0 111.8,610.2 113.1,611.6 114.3,613.2 115.6,614.8 116.8,616.3 118.1,617.6 119.3,618.6 120.6,619.2 121.8,619.4 123.1,619.2 124.4,618.6 125.6,617.6 126.9,616.3 128.1,614.8 129.4,613.2 130.6,611.6 131.9,610.2 133.2,609.0 134.4,608.1 135.7,607.7 136.9,607.7 138.2,608.1 139.4,608.9 140.7,610.0 141.9,611.4 143.2,613.1 144.4,615.1" fill="none" stroke="#fff" stroke-width="2.2" stroke-linecap="round" stroke-linejoin="round"/>
<path d="M196.88,613.40 L198.0,615.0 199.3,613.1 200.5,611.5 201.8,610.1 203.0,609.1 204.3,608.3 205.5,607.9 206.8,608.0 208.0,608.3 209.3,609.0 210.6,610.1 211.8,611.8 213.1,613.7 214.3,615.8 215.6,617.5 216.8,618.8 218.1,619.7 219.3,620.1 220.6,620.2 221.9,620.1 223.1,619.7 224.4,618.8 225.6,617.5 226.9,615.8 228.1,613.7 229.4,611.8 230.6,610.1 231.9,609.0 233.2,608.3 234.4,608.0 235.7,607.9 236.9,608.3 238.2,609.1 239.4,610.1 240.7,611.5 241.9,613.1 243.2,615.0 L244.32,613.40 A23.88,23.88 0 0 0 196.88,613.40Z" fill="#00f600"/>
<g clip-path="url(#m11c)"><ellipse cx="220.80" cy="617.80" rx="21.90" ry="20.45" fill="url(#m11g)"/></g>
<polyline points="198.0,615.0 199.3,613.1 200.5,611.5 201.8,610.1 203.0,609.1 204.3,608.3 205.5,607.9 206.8,608.0 208.0,608.3 209.3,609.0 210.6,610.1 211.8,611.8 213.1,613.7 214.3,615.8 215.6,617.5 216.8,618.8 218.1,619.7 219.3,620.1 220.6,620.2 221.9,620.1 223.1,619.7 224.4,618.8 225.6,617.5 226.9,615.8 228.1,613.7 229.4,611.8 230.6,610.1 231.9,609.0 233.2,608.3 234.4,608.0 235.7,607.9 236.9,608.3 238.2,609.1 239.4,610.1 240.7,611.5 241.9,613.1 243.2,615.0" fill="none" stroke="#fff" stroke-width="2.2" stroke-linecap="round" stroke-linejoin="round"/>
<path d="M296.58,613.30 L297.7,614.9 299.0,613.1 300.2,611.6 301.5,610.4 302.7,609.4 304.0,608.8 305.2,608.5 306.5,608.6 307.7,608.9 309.0,609.7 310.3,610.9 311.5,612.6 312.8,614.8 314.0,617.0 315.3,618.7 316.5,620.0 317.8,620.7 319.0,621.1 320.3,621.2 321.6,621.1 322.8,620.7 324.1,620.0 325.3,618.7 326.6,617.0 327.8,614.8 329.1,612.6 330.3,610.9 331.6,609.7 332.9,608.9 334.1,608.6 335.4,608.5 336.6,608.8 337.9,609.4 339.1,610.4 340.4,611.6 341.6,613.1 342.9,614.9 L344.02,613.30 A23.90,23.90 0 0 0 296.58,613.30Z" fill="#6cff00"/>
<g clip-path="url(#m12c)"><ellipse cx="320.50" cy="617.80" rx="21.90" ry="20.45" fill="url(#m12g)"/></g>
<polyline points="297.7,614.9 299.0,613.1 300.2,611.6 301.5,610.4 302.7,609.4 304.0,608.8 305.2,608.5 306.5,608.6 307.7,608.9 309.0,609.7 310.3,610.9 311.5,612.6 312.8,614.8 314.0,617.0 315.3,618.7 316.5,620.0 317.8,620.7 319.0,621.1 320.3,621.2 321.6,621.1 322.8,620.7 324.1,620.0 325.3,618.7 326.6,617.0 327.8,614.8 329.1,612.6 330.3,610.9 331.6,609.7 332.9,608.9 334.1,608.6 335.4,608.5 336.6,608.8 337.9,609.4 339.1,610.4 340.4,611.6 341.6,613.1 342.9,614.9" fill="none" stroke="#fff" stroke-width="2.2" stroke-linecap="round" stroke-linejoin="round"/>
<path d="M394.68,613.20 L395.8,614.8 397.1,613.2 398.3,611.8 399.6,610.7 400.8,609.9 402.1,609.4 403.3,609.2 404.6,609.3 405.8,609.7 407.1,610.5 408.4,611.8 409.6,613.7 410.9,616.1 412.1,618.4 413.4,620.2 414.6,621.4 415.9,622.1 417.1,622.4 418.4,622.5 419.7,622.4 420.9,622.1 422.2,621.4 423.4,620.2 424.7,618.4 425.9,616.1 427.2,613.7 428.4,611.8 429.7,610.5 431.0,609.7 432.2,609.3 433.5,609.2 434.7,609.4 436.0,609.9 437.2,610.7 438.5,611.8 439.7,613.2 441.0,614.8 L442.12,613.20 A23.91,23.91 0 0 0 394.68,613.20Z" fill="#ffc800"/>
<g clip-path="url(#m13c)"><ellipse cx="418.60" cy="617.80" rx="21.90" ry="20.45" fill="url(#m13g)"/></g>
<polyline points="395.8,614.8 397.1,613.2 398.3,611.8 399.6,610.7 400.8,609.9 402.1,609.4 403.3,609.2 404.6,609.3 405.8,609.7 407.1,610.5 408.4,611.8 409.6,613.7 410.9,616.1 412.1,618.4 413.4,620.2 414.6,621.4 415.9,622.1 417.1,622.4 418.4,622.5 419.7,622.4 420.9,622.1 422.2,621.4 423.4,620.2 424.7,618.4 425.9,616.1 427.2,613.7 428.4,611.8 429.7,610.5 431.0,609.7 432.2,609.3 433.5,609.2 434.7,609.4 436.0,609.9 437.2,610.7 438.5,611.8 439.7,613.2 441.0,614.8" fill="none" stroke="#fff" stroke-width="2.2" stroke-linecap="round" stroke-linejoin="round"/>
<path d="M493.48,613.10 L494.6,614.7 495.9,613.2 497.1,611.9 498.4,610.9 499.6,610.2 500.9,609.8 502.1,609.7 503.4,609.9 504.6,610.3 505.9,611.1 507.2,612.5 508.4,614.7 509.7,617.3 510.9,619.7 512.2,621.5 513.4,622.7 514.7,623.3 515.9,623.6 517.2,623.7 518.5,623.6 519.7,623.3 521.0,622.7 522.2,621.5 523.5,619.7 524.7,617.3 526.0,614.7 527.2,612.5 528.5,611.1 529.8,610.3 531.0,609.9 532.3,609.7 533.5,609.8 534.8,610.2 536.0,610.9 537.3,611.9 538.5,613.2 539.8,614.7 L540.92,613.10 A23.92,23.92 0 0 0 493.48,613.10Z" fill="#ff0000"/>
<g clip-path="url(#m14c)"><ellipse cx="517.40" cy="617.80" rx="21.90" ry="20.45" fill="url(#m14g)"/></g>
<polyline points="494.6,614.7 495.9,613.2 497.1,611.9 498.4,610.9 499.6,610.2 500.9,609.8 502.1,609.7 503.4,609.9 504.6,610.3 505.9,611.1 507.2,612.5 508.4,614.7 509.7,617.3 510.9,619.7 512.2,621.5 513.4,622.7 514.7,623.3 515.9,623.6 517.2,623.7 518.5,623.6 519.7,623.3 521.0,622.7 522.2,621.5 523.5,619.7 524.7,617.3 526.0,614.7 527.2,612.5 528.5,611.1 529.8,610.3 531.0,609.9 532.3,609.7 533.5,609.8 534.8,610.2 536.0,610.9 537.3,611.9 538.5,613.2 539.8,614.7" fill="none" stroke="#fff" stroke-width="2.2" stroke-linecap="round" stroke-linejoin="round"/>
<path d="M98.13,680.50 L99.2,682.1 100.5,680.2 101.8,678.6 103.0,677.3 104.3,676.3 105.5,675.6 106.8,675.2 108.0,675.3 109.3,675.8 110.5,676.6 111.8,677.7 113.1,679.0 114.3,680.4 115.6,681.8 116.8,683.1 118.1,684.3 119.3,685.2 120.6,685.7 121.8,685.9 123.1,685.7 124.4,685.2 125.6,684.3 126.9,683.1 128.1,681.8 129.4,680.4 130.6,679.0 131.9,677.7 133.2,676.6 134.4,675.8 135.7,675.3 136.9,675.2 138.2,675.6 139.4,676.3 140.7,677.3 141.9,678.6 143.2,680.2 144.4,682.1 L145.57,680.50 A23.96,23.96 0 0 0 98.13,680.50Z" fill="#00f96c"/>
<g clip-path="url(#m20c)"><ellipse cx="122.05" cy="685.40" rx="21.90" ry="20.45" fill="url(#m20l)"/><rect x="97.85" y="679.9" width="48" height="26" fill="url(#m20g)"/></g>
<polyline points="99.2,682.1 100.5,680.2 101.8,678.6 103.0,677.3 104.3,676.3 105.5,675.6 106.8,675.2 108.0,675.3 109.3,675.8 110.5,676.6 111.8,677.7 113.1,679.0 114.3,680.4 115.6,681.8 116.8,683.1 118.1,684.3 119.3,685.2 120.6,685.7 121.8,685.9 123.1,685.7 124.4,685.2 125.6,684.3 126.9,683.1 128.1,681.8 129.4,680.4 130.6,679.0 131.9,677.7 133.2,676.6 134.4,675.8 135.7,675.3 136.9,675.2 138.2,675.6 139.4,676.3 140.7,677.3 141.9,678.6 143.2,680.2 144.4,682.1" fill="none" stroke="#fff" stroke-width="2.1" stroke-linecap="round" stroke-linejoin="round"/>
<path d="M196.88,680.50 L198.0,682.1 199.3,680.2 200.5,678.6 201.8,677.3 203.0,676.3 204.3,675.6 205.5,675.2 206.8,675.3 208.0,675.8 209.3,676.6 210.6,677.7 211.8,679.0 213.1,680.4 214.3,681.8 215.6,683.1 216.8,684.3 218.1,685.2 219.3,685.7 220.6,685.9 221.9,685.7 223.1,685.2 224.4,684.3 225.6,683.1 226.9,681.8 228.1,680.4 229.4,679.0 230.6,677.7 231.9,676.6 233.2,675.8 234.4,675.3 235.7,675.2 236.9,675.6 238.2,676.3 239.4,677.3 240.7,678.6 241.9,680.2 243.2,682.1 L244.32,680.50 A23.96,23.96 0 0 0 196.88,680.50Z" fill="#00f400"/>
<g clip-path="url(#m21c)"><ellipse cx="220.80" cy="685.40" rx="21.90" ry="20.45" fill="url(#m21l)"/><rect x="196.6" y="679.9" width="48" height="26" fill="url(#m21g)"/></g>
<polyline points="198.0,682.1 199.3,680.2 200.5,678.6 201.8,677.3 203.0,676.3 204.3,675.6 205.5,675.2 206.8,675.3 208.0,675.8 209.3,676.6 210.6,677.7 211.8,679.0 213.1,680.4 214.3,681.8 215.6,683.1 216.8,684.3 218.1,685.2 219.3,685.7 220.6,685.9 221.9,685.7 223.1,685.2 224.4,684.3 225.6,683.1 226.9,681.8 228.1,680.4 229.4,679.0 230.6,677.7 231.9,676.6 233.2,675.8 234.4,675.3 235.7,675.2 236.9,675.6 238.2,676.3 239.4,677.3 240.7,678.6 241.9,680.2 243.2,682.1" fill="none" stroke="#fff" stroke-width="2.1" stroke-linecap="round" stroke-linejoin="round"/>
<path d="M296.58,680.50 L297.7,682.1 299.0,680.2 300.2,678.6 301.5,677.3 302.7,676.3 304.0,675.6 305.2,675.2 306.5,675.3 307.7,675.8 309.0,676.6 310.3,677.7 311.5,679.0 312.8,680.4 314.0,681.8 315.3,683.1 316.5,684.3 317.8,685.2 319.0,685.7 320.3,685.9 321.6,685.7 322.8,685.2 324.1,684.3 325.3,683.1 326.6,681.8 327.8,680.4 329.1,679.0 330.3,677.7 331.6,676.6 332.9,675.8 334.1,675.3 335.4,675.2 336.6,675.6 337.9,676.3 339.1,677.3 340.4,678.6 341.6,680.2 342.9,682.1 L344.02,680.50 A23.96,23.96 0 0 0 296.58,680.50Z" fill="#70ff10"/>
<g clip-path="url(#m22c)"><ellipse cx="320.50" cy="685.40" rx="21.90" ry="20.45" fill="url(#m22l)"/><rect x="296.3" y="679.9" width="48" height="26" fill="url(#m22g)"/></g>
<polyline points="297.7,682.1 299.0,680.2 300.2,678.6 301.5,677.3 302.7,676.3 304.0,675.6 305.2,675.2 306.5,675.3 307.7,675.8 309.0,676.6 310.3,677.7 311.5,679.0 312.8,680.4 314.0,681.8 315.3,683.1 316.5,684.3 317.8,685.2 319.0,685.7 320.3,685.9 321.6,685.7 322.8,685.2 324.1,684.3 325.3,683.1 326.6,681.8 327.8,680.4 329.1,679.0 330.3,677.7 331.6,676.6 332.9,675.8 334.1,675.3 335.4,675.2 336.6,675.6 337.9,676.3 339.1,677.3 340.4,678.6 341.6,680.2 342.9,682.1" fill="none" stroke="#fff" stroke-width="2.1" stroke-linecap="round" stroke-linejoin="round"/>
<path d="M394.68,680.50 L395.8,682.1 397.1,680.2 398.3,678.6 399.6,677.3 400.8,676.3 402.1,675.6 403.3,675.2 404.6,675.3 405.8,675.8 407.1,676.6 408.4,677.7 409.6,679.0 410.9,680.4 412.1,681.8 413.4,683.1 414.6,684.3 415.9,685.2 417.1,685.7 418.4,685.9 419.7,685.7 420.9,685.2 422.2,684.3 423.4,683.1 424.7,681.8 425.9,680.4 427.2,679.0 428.4,677.7 429.7,676.6 431.0,675.8 432.2,675.3 433.5,675.2 434.7,675.6 436.0,676.3 437.2,677.3 438.5,678.6 439.7,680.2 441.0,682.1 L442.12,680.50 A23.96,23.96 0 0 0 394.68,680.50Z" fill="#ffec00"/>
<g clip-path="url(#m23c)"><ellipse cx="418.60" cy="685.40" rx="21.90" ry="20.45" fill="url(#m23l)"/><rect x="394.4" y="679.9" width="48" height="26" fill="url(#m23g)"/><ellipse cx="418.4" cy="705.1999999999999" rx="3.6" ry="1.0" fill="#00f040"/></g>
<polyline points="395.8,682.1 397.1,680.2 398.3,678.6 399.6,677.3 400.8,676.3 402.1,675.6 403.3,675.2 404.6,675.3 405.8,675.8 407.1,676.6 408.4,677.7 409.6,679.0 410.9,680.4 412.1,681.8 413.4,683.1 414.6,684.3 415.9,685.2 417.1,685.7 418.4,685.9 419.7,685.7 420.9,685.2 422.2,684.3 423.4,683.1 424.7,681.8 425.9,680.4 427.2,679.0 428.4,677.7 429.7,676.6 431.0,675.8 432.2,675.3 433.5,675.2 434.7,675.6 436.0,676.3 437.2,677.3 438.5,678.6 439.7,680.2 441.0,682.1" fill="none" stroke="#fff" stroke-width="2.1" stroke-linecap="round" stroke-linejoin="round"/>
<path d="M493.48,680.50 L494.6,682.1 495.9,680.2 497.1,678.6 498.4,677.3 499.6,676.3 500.9,675.6 502.1,675.2 503.4,675.3 504.6,675.8 505.9,676.6 507.2,677.7 508.4,679.0 509.7,680.4 510.9,681.8 512.2,683.1 513.4,684.3 514.7,685.2 515.9,685.7 517.2,685.9 518.5,685.7 519.7,685.2 521.0,684.3 522.2,683.1 523.5,681.8 524.7,680.4 526.0,679.0 527.2,677.7 528.5,676.6 529.8,675.8 531.0,675.3 532.3,675.2 533.5,675.6 534.8,676.3 536.0,677.3 537.3,678.6 538.5,680.2 539.8,682.1 L540.92,680.50 A23.96,23.96 0 0 0 493.48,680.50Z" fill="#ff6000"/>
<g clip-path="url(#m24c)"><ellipse cx="517.40" cy="685.40" rx="21.90" ry="20.45" fill="url(#m24l)"/><rect x="493.20000000000005" y="679.9" width="48" height="26" fill="url(#m24g)"/><ellipse cx="517.2" cy="705.1999999999999" rx="6.5" ry="1.2" fill="#50f000"/></g>
<polyline points="494.6,682.1 495.9,680.2 497.1,678.6 498.4,677.3 499.6,676.3 500.9,675.6 502.1,675.2 503.4,675.3 504.6,675.8 505.9,676.6 507.2,677.7 508.4,679.0 509.7,680.4 510.9,681.8 512.2,683.1 513.4,684.3 514.7,685.2 515.9,685.7 517.2,685.9 518.5,685.7 519.7,685.2 521.0,684.3 522.2,683.1 523.5,681.8 524.7,680.4 526.0,679.0 527.2,677.7 528.5,676.6 529.8,675.8 531.0,675.3 532.3,675.2 533.5,675.6 534.8,676.3 536.0,677.3 537.3,678.6 538.5,680.2 539.8,682.1" fill="none" stroke="#fff" stroke-width="2.1" stroke-linecap="round" stroke-linejoin="round"/>
<path d="M98.13,742.60 L99.2,744.2 100.5,742.3 101.8,740.7 103.0,739.4 104.3,738.4 105.5,737.7 106.8,737.3 108.0,737.4 109.3,737.9 110.5,738.7 111.8,739.8 113.1,741.1 114.3,742.5 115.6,743.9 116.8,745.2 118.1,746.4 119.3,747.3 120.6,747.8 121.8,748.0 123.1,747.8 124.4,747.3 125.6,746.4 126.9,745.2 128.1,743.9 129.4,742.5 130.6,741.1 131.9,739.8 133.2,738.7 134.4,737.9 135.7,737.4 136.9,737.3 138.2,737.7 139.4,738.4 140.7,739.4 141.9,740.7 143.2,742.3 144.4,744.2 L145.57,742.60 A23.96,23.96 0 0 0 98.13,742.60Z" fill="#00f96c"/>
<g clip-path="url(#m30c)"><ellipse cx="122.05" cy="747.50" rx="21.90" ry="20.45" fill="url(#m30l)"/><rect x="97.85" y="742.0" width="48" height="26" fill="url(#m30g)"/></g>
<polyline points="99.2,744.2 100.5,742.3 101.8,740.7 103.0,739.4 104.3,738.4 105.5,737.7 106.8,737.3 108.0,737.4 109.3,737.9 110.5,738.7 111.8,739.8 113.1,741.1 114.3,742.5 115.6,743.9 116.8,745.2 118.1,746.4 119.3,747.3 120.6,747.8 121.8,748.0 123.1,747.8 124.4,747.3 125.6,746.4 126.9,745.2 128.1,743.9 129.4,742.5 130.6,741.1 131.9,739.8 133.2,738.7 134.4,737.9 135.7,737.4 136.9,737.3 138.2,737.7 139.4,738.4 140.7,739.4 141.9,740.7 143.2,742.3 144.4,744.2" fill="none" stroke="#fff" stroke-width="2.1" stroke-linecap="round" stroke-linejoin="round"/>
<path d="M196.88,742.60 L198.0,744.2 199.3,742.3 200.5,740.7 201.8,739.4 203.0,738.4 204.3,737.7 205.5,737.3 206.8,737.4 208.0,737.9 209.3,738.7 210.6,739.8 211.8,741.1 213.1,742.5 214.3,743.9 215.6,745.2 216.8,746.4 218.1,747.3 219.3,747.8 220.6,748.0 221.9,747.8 223.1,747.3 224.4,746.4 225.6,745.2 226.9,743.9 228.1,742.5 229.4,741.1 230.6,739.8 231.9,738.7 233.2,737.9 234.4,737.4 235.7,737.3 236.9,737.7 238.2,738.4 239.4,739.4 240.7,740.7 241.9,742.3 243.2,744.2 L244.32,742.60 A23.96,23.96 0 0 0 196.88,742.60Z" fill="#00f400"/>
<g clip-path="url(#m31c)"><ellipse cx="220.80" cy="747.50" rx="21.90" ry="20.45" fill="url(#m31l)"/><rect x="196.6" y="742.0" width="48" height="26" fill="url(#m31g)"/></g>
<polyline points="198.0,744.2 199.3,742.3 200.5,740.7 201.8,739.4 203.0,738.4 204.3,737.7 205.5,737.3 206.8,737.4 208.0,737.9 209.3,738.7 210.6,739.8 211.8,741.1 213.1,742.5 214.3,743.9 215.6,745.2 216.8,746.4 218.1,747.3 219.3,747.8 220.6,748.0 221.9,747.8 223.1,747.3 224.4,746.4 225.6,745.2 226.9,743.9 228.1,742.5 229.4,741.1 230.6,739.8 231.9,738.7 233.2,737.9 234.4,737.4 235.7,737.3 236.9,737.7 238.2,738.4 239.4,739.4 240.7,740.7 241.9,742.3 243.2,744.2" fill="none" stroke="#fff" stroke-width="2.1" stroke-linecap="round" stroke-linejoin="round"/>
<path d="M296.58,742.60 L297.7,744.2 299.0,742.3 300.2,740.7 301.5,739.4 302.7,738.4 304.0,737.7 305.2,737.3 306.5,737.4 307.7,737.9 309.0,738.7 310.3,739.8 311.5,741.1 312.8,742.5 314.0,743.9 315.3,745.2 316.5,746.4 317.8,747.3 319.0,747.8 320.3,748.0 321.6,747.8 322.8,747.3 324.1,746.4 325.3,745.2 326.6,743.9 327.8,742.5 329.1,741.1 330.3,739.8 331.6,738.7 332.9,737.9 334.1,737.4 335.4,737.3 336.6,737.7 337.9,738.4 339.1,739.4 340.4,740.7 341.6,742.3 342.9,744.2 L344.02,742.60 A23.96,23.96 0 0 0 296.58,742.60Z" fill="#70ff10"/>
<g clip-path="url(#m32c)"><ellipse cx="320.50" cy="747.50" rx="21.90" ry="20.45" fill="url(#m32l)"/><rect x="296.3" y="742.0" width="48" height="26" fill="url(#m32g)"/></g>
<polyline points="297.7,744.2 299.0,742.3 300.2,740.7 301.5,739.4 302.7,738.4 304.0,737.7 305.2,737.3 306.5,737.4 307.7,737.9 309.0,738.7 310.3,739.8 311.5,741.1 312.8,742.5 314.0,743.9 315.3,745.2 316.5,746.4 317.8,747.3 319.0,747.8 320.3,748.0 321.6,747.8 322.8,747.3 324.1,746.4 325.3,745.2 326.6,743.9 327.8,742.5 329.1,741.1 330.3,739.8 331.6,738.7 332.9,737.9 334.1,737.4 335.4,737.3 336.6,737.7 337.9,738.4 339.1,739.4 340.4,740.7 341.6,742.3 342.9,744.2" fill="none" stroke="#fff" stroke-width="2.1" stroke-linecap="round" stroke-linejoin="round"/>
<path d="M394.68,742.60 L395.8,744.2 397.1,742.3 398.3,740.7 399.6,739.4 400.8,738.4 402.1,737.7 403.3,737.3 404.6,737.4 405.8,737.9 407.1,738.7 408.4,739.8 409.6,741.1 410.9,742.5 412.1,743.9 413.4,745.2 414.6,746.4 415.9,747.3 417.1,747.8 418.4,748.0 419.7,747.8 420.9,747.3 422.2,746.4 423.4,745.2 424.7,743.9 425.9,742.5 427.2,741.1 428.4,739.8 429.7,738.7 431.0,737.9 432.2,737.4 433.5,737.3 434.7,737.7 436.0,738.4 437.2,739.4 438.5,740.7 439.7,742.3 441.0,744.2 L442.12,742.60 A23.96,23.96 0 0 0 394.68,742.60Z" fill="#ffec00"/>
<g clip-path="url(#m33c)"><ellipse cx="418.60" cy="747.50" rx="21.90" ry="20.45" fill="url(#m33l)"/><rect x="394.4" y="742.0" width="48" height="26" fill="url(#m33g)"/><ellipse cx="418.4" cy="767.3" rx="3.6" ry="1.0" fill="#00f040"/></g>
<polyline points="395.8,744.2 397.1,742.3 398.3,740.7 399.6,739.4 400.8,738.4 402.1,737.7 403.3,737.3 404.6,737.4 405.8,737.9 407.1,738.7 408.4,739.8 409.6,741.1 410.9,742.5 412.1,743.9 413.4,745.2 414.6,746.4 415.9,747.3 417.1,747.8 418.4,748.0 419.7,747.8 420.9,747.3 422.2,746.4 423.4,745.2 424.7,743.9 425.9,742.5 427.2,741.1 428.4,739.8 429.7,738.7 431.0,737.9 432.2,737.4 433.5,737.3 434.7,737.7 436.0,738.4 437.2,739.4 438.5,740.7 439.7,742.3 441.0,744.2" fill="none" stroke="#fff" stroke-width="2.1" stroke-linecap="round" stroke-linejoin="round"/>
<path d="M493.48,742.60 L494.6,744.2 495.9,742.3 497.1,740.7 498.4,739.4 499.6,738.4 500.9,737.7 502.1,737.3 503.4,737.4 504.6,737.9 505.9,738.7 507.2,739.8 508.4,741.1 509.7,742.5 510.9,743.9 512.2,745.2 513.4,746.4 514.7,747.3 515.9,747.8 517.2,748.0 518.5,747.8 519.7,747.3 521.0,746.4 522.2,745.2 523.5,743.9 524.7,742.5 526.0,741.1 527.2,739.8 528.5,738.7 529.8,737.9 531.0,737.4 532.3,737.3 533.5,737.7 534.8,738.4 536.0,739.4 537.3,740.7 538.5,742.3 539.8,744.2 L540.92,742.60 A23.96,23.96 0 0 0 493.48,742.60Z" fill="#ff6000"/>
<g clip-path="url(#m34c)"><ellipse cx="517.40" cy="747.50" rx="21.90" ry="20.45" fill="url(#m34l)"/><rect x="493.20000000000005" y="742.0" width="48" height="26" fill="url(#m34g)"/><ellipse cx="517.2" cy="767.3" rx="6.5" ry="1.2" fill="#50f000"/></g>
<polyline points="494.6,744.2 495.9,742.3 497.1,740.7 498.4,739.4 499.6,738.4 500.9,737.7 502.1,737.3 503.4,737.4 504.6,737.9 505.9,738.7 507.2,739.8 508.4,741.1 509.7,742.5 510.9,743.9 512.2,745.2 513.4,746.4 514.7,747.3 515.9,747.8 517.2,748.0 518.5,747.8 519.7,747.3 521.0,746.4 522.2,745.2 523.5,743.9 524.7,742.5 526.0,741.1 527.2,739.8 528.5,738.7 529.8,737.9 531.0,737.4 532.3,737.3 533.5,737.7 534.8,738.4 536.0,739.4 537.3,740.7 538.5,742.3 539.8,744.2" fill="none" stroke="#fff" stroke-width="2.1" stroke-linecap="round" stroke-linejoin="round"/>
<text x="123.9" y="509.4" font-size="14.3" text-anchor="middle">3 L/min</text>
<text x="219.8" y="509.4" font-size="14.3" text-anchor="middle">4 L/min</text>
<text x="319.3" y="509.4" font-size="14.3" text-anchor="middle">5 L/min</text>
<text x="418.0" y="509.4" font-size="14.3" text-anchor="middle">6 L/min</text>
<text x="516.6" y="509.4" font-size="14.3" text-anchor="middle">7 L/min</text>
<text x="37.6" y="559.8" font-size="14.5" text-anchor="middle">CA of AC</text>
<text x="39.2" y="618.7" font-size="14.5" text-anchor="middle">SMA of AC</text>
<text x="42.2" y="686.8" font-size="14.5" text-anchor="middle">CA of AFC</text>
<text x="43.8" y="745.8" font-size="14.5" text-anchor="middle">SMA of AFC</text>
<rect x="0" y="645.6" width="544.8" height="2.1" fill="#111"/></g>
<g id="cbar"><rect x="569.2" y="563.2" width="8.4" height="200.6" fill="url(#jet)"/>
<text x="567.3" y="533.9" font-size="14.2">Pressure <tspan dy="-1.1">[mmHg]</tspan></text>
<text x="585.9" y="568.7" font-size="13.8">5.625</text>
<text x="585.9" y="618.1" font-size="13.8">3.750</text>
<text x="585.9" y="667.7" font-size="13.8">1.875</text>
<text x="585.9" y="717.5" font-size="13.8">0</text>
<text x="587.2" y="766.7" font-size="13.8">-1.875</text></g>
</svg></body></html>
